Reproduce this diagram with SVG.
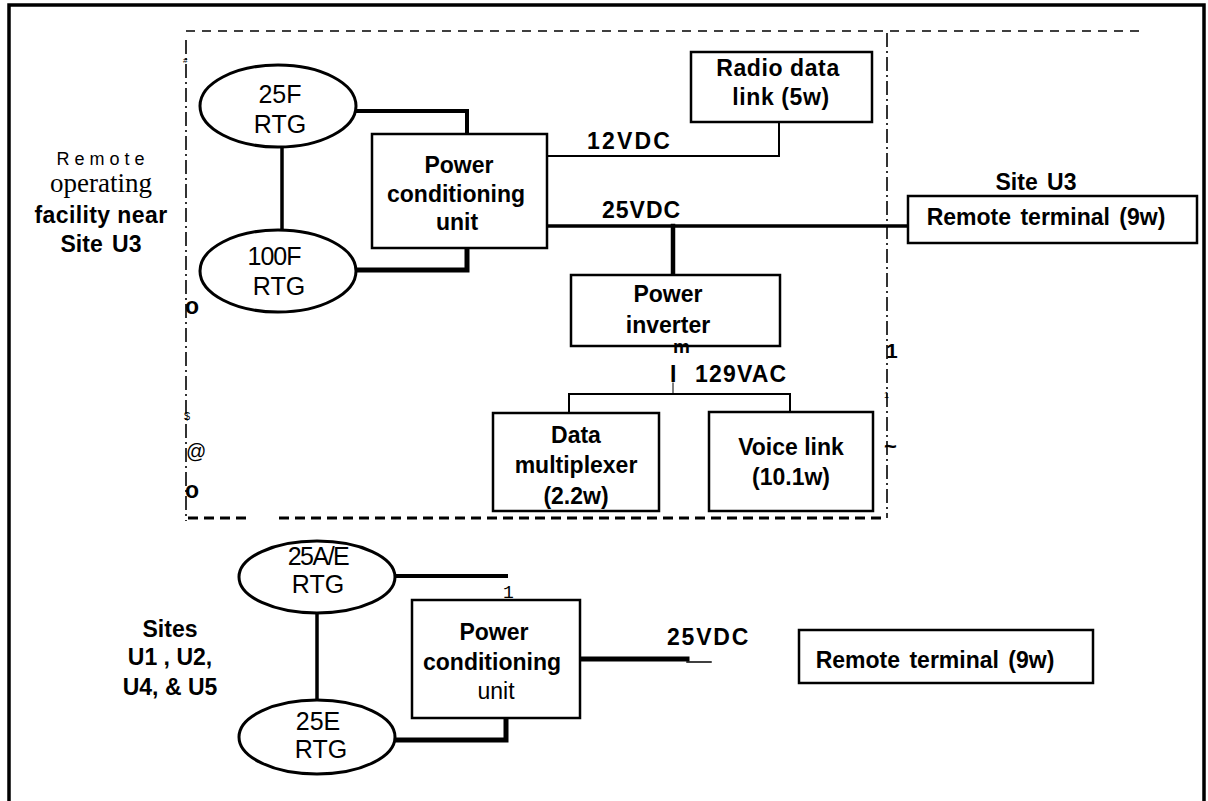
<svg xmlns="http://www.w3.org/2000/svg" width="1208" height="801" viewBox="0 0 1208 801">
<style>
.b{font-family:"Liberation Sans",Arial,sans-serif;font-weight:bold;font-size:23px;fill:#000;text-anchor:middle}
.r{font-family:"Liberation Sans",Arial,sans-serif;font-size:25px;fill:#000;text-anchor:middle}
.box{fill:#fff;stroke:#000;stroke-width:2.5}
.ell{fill:#fff;stroke:#000;stroke-width:3}
.w{fill:none;stroke:#000;stroke-linecap:square}
</style>
<rect width="1208" height="801" fill="#fff"/>
<!-- outer frame -->
<path d="M9,801 V5 H1204 V801" fill="none" stroke="#000" stroke-width="3.5"/>
<!-- dashed boundary -->
<g id="boundary" fill="none" stroke="#000">
<line x1="186" y1="31" x2="1140" y2="31" stroke-width="1.6" stroke-dasharray="9 7"/>
<line x1="186" y1="40" x2="186" y2="521" stroke-width="1.6" stroke-dasharray="14 4 2 4"/>
<line x1="887" y1="33" x2="887" y2="518" stroke-width="1.6" stroke-dasharray="14 4 2 4"/>
<line x1="188" y1="518" x2="250" y2="518" stroke-width="3" stroke-dasharray="10 6"/>
<line x1="279" y1="518" x2="887" y2="518" stroke-width="3" stroke-dasharray="10 6"/>
</g>
<!-- stray marks -->
<g id="marks" font-family="'Liberation Sans',Arial,sans-serif" fill="#000">
<text x="183" y="63" font-size="8">#</text>
<text x="185" y="314" font-size="23" font-weight="bold">o</text>
<text x="185" y="498" font-size="23" font-weight="bold">o</text>
<text x="186" y="458" font-size="20">@</text>
<text x="184" y="420" font-size="11">$</text>
<text x="886" y="358" font-size="21" font-weight="bold">1</text>
<text x="884" y="398" font-size="9">1</text>
<text x="884" y="454" font-size="22" font-weight="bold">~</text>
</g>
<!-- connectors -->
<g id="connectors" class="w">
<line x1="282" y1="147" x2="282" y2="230" stroke-width="3.5"/>
<path d="M355,111 H467 V134" stroke-width="4"/>
<path d="M355,270 H467 V248" stroke-width="5"/>
<path d="M547,156 H779 V122" stroke-width="2"/>
<line x1="547" y1="226" x2="908" y2="226" stroke-width="3.5"/>
<line x1="673" y1="226" x2="673" y2="275" stroke-width="4.5"/>
<line x1="673" y1="383" x2="673" y2="394" stroke-width="1"/>
<path d="M569,413 V394 H790 V410" stroke-width="2"/>
<line x1="317" y1="612" x2="317" y2="700" stroke-width="3.5"/>
<line x1="395" y1="576" x2="506" y2="576" stroke-width="4"/>
<path d="M395,740 H506 V718" stroke-width="5"/>
<line x1="580" y1="659" x2="687" y2="659" stroke-width="5"/>
<line x1="687" y1="662" x2="711" y2="662" stroke-width="1.5"/>
</g>
<!-- upper site -->
<g id="rtg25f"><ellipse class="ell" cx="278" cy="106" rx="78" ry="41"/><text class="r" x="280" y="103">25F</text><text class="r" x="280" y="133">RTG</text></g>
<g id="rtg100f"><ellipse class="ell" cx="278" cy="271" rx="78" ry="41"/><text class="r" x="274" y="265" letter-spacing="-1">100F</text><text class="r" x="279" y="295">RTG</text></g>
<g id="pcu1"><rect class="box" x="372" y="134" width="175" height="114"/><text class="b" x="459" y="173">Power</text><text class="b" x="456" y="202">conditioning</text><text class="b" x="457" y="230">unit</text></g>
<g id="radio"><rect class="box" x="691" y="52" width="181" height="70"/><text class="b" x="778" y="76" letter-spacing="0.6">Radio data</text><text class="b" x="781" y="105" letter-spacing="0.6">link (5w)</text></g>
<g id="rt1"><rect class="box" x="908" y="196" width="289" height="47"/><text class="b" x="1046" y="225" word-spacing="3">Remote terminal (9w)</text></g>
<g id="inverter"><rect class="box" x="571" y="275" width="209" height="71"/><text class="b" x="668" y="302">Power</text><text class="b" x="668" y="333">inverter</text></g>
<g id="mux"><rect class="box" x="493" y="413" width="166" height="98"/><text class="b" x="576" y="443">Data</text><text class="b" x="576" y="473">multiplexer</text><text class="b" x="576" y="504">(2.2w)</text></g>
<g id="voice"><rect class="box" x="709" y="412" width="164" height="99"/><text class="b" x="791" y="455">Voice link</text><text class="b" x="791" y="485">(10.1w)</text></g>
<!-- labels -->
<g id="labels">
<text class="b" x="587" y="149" letter-spacing="2.2" style="text-anchor:start">12VDC</text>
<text class="b" x="602" y="218" style="text-anchor:start" letter-spacing="1">25VDC</text>
<text class="b" x="673" y="353" style="text-anchor:start;font-size:19px">m</text>
<text class="b" x="670" y="382" style="text-anchor:start">I</text>
<text class="b" x="695" y="382" style="text-anchor:start" letter-spacing="1.2">129VAC</text>
<text class="b" x="1036" y="190" word-spacing="3">Site U3</text>
<text x="103" y="165" font-family="'Liberation Sans',Arial,sans-serif" font-size="18" letter-spacing="5" text-anchor="middle">Remote</text>
<text x="101" y="192" font-family="'Liberation Serif','Times New Roman',serif" font-size="27" text-anchor="middle">operating</text>
<text class="b" x="101" y="223" letter-spacing="0.4">facility near</text>
<text class="b" x="101" y="252" word-spacing="3">Site U3</text>
<text class="b" x="170" y="637">Sites</text>
<text class="b" x="170" y="665">U1 , U2,</text>
<text class="b" x="170" y="695">U4, &amp; U5</text>
<text class="b" x="667" y="645" style="text-anchor:start" letter-spacing="1.8">25VDC</text>
<text x="503" y="598" font-family="'Liberation Mono','Courier New',monospace" font-size="18" fill="#000">1</text>
</g>
<!-- lower sites -->
<g id="rtg25ae"><ellipse class="ell" cx="317" cy="577" rx="78" ry="36"/><text class="r" x="318" y="565" letter-spacing="-1.5">25A/E</text><text class="r" x="318" y="593">RTG</text></g>
<g id="rtg25e"><ellipse class="ell" cx="317" cy="737" rx="78" ry="37"/><text class="r" x="318" y="730">25E</text><text class="r" x="321" y="758">RTG</text></g>
<g id="pcu2"><rect class="box" x="412" y="600" width="168" height="118"/><text class="b" x="494" y="640">Power</text><text class="b" x="492" y="670">conditioning</text><text class="r" x="496" y="699" style="font-size:23px">unit</text></g>
<g id="rt2"><rect class="box" x="799" y="630" width="294" height="53"/><text class="b" x="935" y="668" word-spacing="3">Remote terminal (9w)</text></g>
</svg>
